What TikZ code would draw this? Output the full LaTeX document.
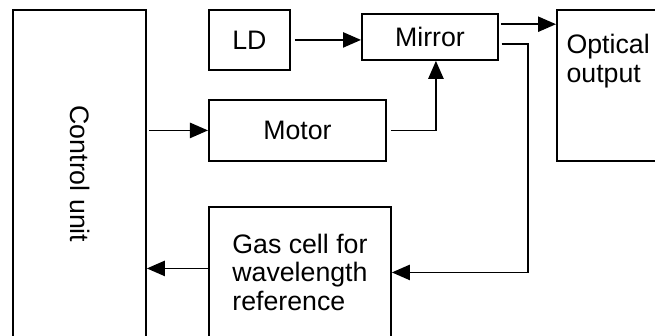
\documentclass[tikz,border=0pt]{standalone}
\usepackage{fontspec}
\setmainfont{Liberation Sans}
\usepackage{tikz}
\usetikzlibrary{
  arrows.meta,
  positioning
}

\begin{document}
\begin{tikzpicture}[
    x=0.025cm, y=-0.025cm,
    font=\fontsize{19}{20.5}\selectfont,
    >={Triangle[length=0.45cm, width=0.38cm]},
    block/.style={draw, line width=1.3pt, rectangle, anchor=north west, inner sep=0pt, align=left},
    link/.style={->, line width=1.3pt},
]

\path[use as bounding box, clip] (0,0) rectangle (655,335);

% === Control unit ===
\node[block, minimum width=3.325cm, minimum height=8.2cm,
      label={[rotate=-90, yshift=0.02cm]center:Control unit}] (ctrl) at (12,9) {};

% === Source and mirror ===
\node[block, minimum width=2.025cm, minimum height=1.5cm, align=center] (ld) at (208,9) {LD};
\node[block, minimum width=3.4cm, minimum height=1.15cm, align=center] (mirror) at (361,13) {Mirror};
\node[block, minimum width=4.425cm, minimum height=1.525cm, align=center] (motor) at (208,99) {Motor};

% === Output and reference cell ===
\node[block, minimum width=2.75cm, minimum height=3.775cm,
      label={[anchor=north west, align=left, xshift=0.14cm, yshift=-0.5cm]north west:Optical\\output}] (optical) at (556,9) {};
\node[block, minimum width=4.55cm, minimum height=3.275cm] (gas) at (208,206) {Gas cell for\\wavelength\\reference};

% === Connections ===
\draw[link, shorten <=0.1cm] (ld.east) -- (ld.east -| mirror.west);
\draw[link, shorten <=0.05cm] (motor.west -| ctrl.east) -- (motor.west);
\draw[link, shorten <=0.1cm] (motor.east) -| ([xshift=0.15cm]mirror.south);
\draw[link, shorten <=0.05cm] ([yshift=-0.28cm]mirror.north east) -- ([yshift=-0.28cm]mirror.north east -| optical.west);
\draw[link, shorten <=0.07cm] ([yshift=0.42cm]mirror.south east) -- ++(29,0) |- (gas.east);
\draw[link] ([yshift=0.1cm]gas.west) -- ([yshift=0.1cm]gas.west -| ctrl.east);

\end{tikzpicture}
\end{document}
